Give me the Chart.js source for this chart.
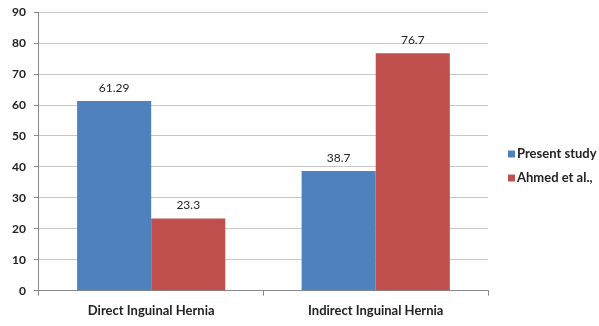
<!DOCTYPE html>
<html>
<head>
<meta charset="utf-8">
<script src="https://cdn.jsdelivr.net/npm/chart.js@4"></script>
<style>
  html, body { margin: 0; padding: 0; background: #fff; }
  #wrap { width: 599px; height: 326px; }
</style>
</head>
<body>
<div id="wrap"><canvas id="c" width="599" height="326"></canvas></div>
<script>
const categories = ['Direct Inguinal Hernia', 'Indirect Inguinal Hernia'];
const presentStudy = [61.29, 38.7];
const ahmedEtAl = [23.3, 76.7];
const seriesNames = ['Present study', 'Ahmed et al.,'];
const seriesColors = ['#4F81BD', '#C0504D'];
const yTicks = [0, 10, 20, 30, 40, 50, 60, 70, 80, 90];

const FONT = 'Lato, "Open Sans", sans-serif';

// Prints each bar's value just above it
const valueLabels = {
  id: 'valueLabels',
  afterDatasetsDraw(chart) {
    const ctx = chart.ctx;
    ctx.save();
    ctx.font = '12px ' + FONT;
    ctx.fillStyle = '#222';
    ctx.textAlign = 'center';
    ctx.textBaseline = 'bottom';
    chart.data.datasets.forEach((ds, i) => {
      chart.getDatasetMeta(i).data.forEach((bar, j) => {
        ctx.fillText(String(ds.data[j]), bar.x, bar.y - 7);
      });
    });
    ctx.restore();
  }
};

// Series key to the right of the plot, vertically centred on the canvas
const sideLegend = {
  id: 'sideLegend',
  afterDraw(chart) {
    const ctx = chart.ctx;
    const x0 = chart.chartArea.right + 20;
    const rowGap = 24;
    const n = chart.data.datasets.length;
    const yStart = chart.height / 2 + 3 - (n - 1) * rowGap / 2;
    ctx.save();
    ctx.font = 'bold 13px ' + FONT;
    ctx.textAlign = 'left';
    ctx.textBaseline = 'middle';
    chart.data.datasets.forEach((ds, i) => {
      const y = yStart + i * rowGap;
      ctx.fillStyle = ds.backgroundColor;
      ctx.fillRect(x0, y - 3.5, 7, 7);
      ctx.fillStyle = '#222';
      ctx.fillText(ds.label, x0 + 9, y);
    });
    ctx.restore();
  }
};

new Chart(document.getElementById('c'), {
  type: 'bar',
  data: {
    labels: categories,
    datasets: [
      { label: seriesNames[0], data: presentStudy, backgroundColor: seriesColors[0] },
      { label: seriesNames[1], data: ahmedEtAl, backgroundColor: seriesColors[1] }
    ]
  },
  options: {
    responsive: false,
    animation: false,
    devicePixelRatio: 1,
    layout: { padding: { left: 4, top: 0, right: 111, bottom: 0 } },
    datasets: { bar: { categoryPercentage: 0.66, barPercentage: 1.0 } },
    scales: {
      x: {
        grid: { display: true, drawOnChartArea: false, drawTicks: true, tickLength: 5, color: '#888', offset: true },
        border: { display: true, color: '#888' },
        ticks: { color: '#222', font: { family: FONT, size: 13, weight: 'bold', lineHeight: 0.95 }, padding: 9 }
      },
      y: {
        min: 0, max: 90,
        afterBuildTicks(axis) { axis.ticks = yTicks.map(v => ({ value: v })); },
        grid: { color: '#c8c8c8', tickLength: 5, tickColor: '#888' },
        border: { display: true, color: '#888' },
        ticks: { color: '#222', font: { family: FONT, size: 12, weight: 'bold', lineHeight: 0.7 }, padding: 8 }
      }
    },
    plugins: {
      legend: { display: false },
      tooltip: { enabled: false }
    }
  },
  plugins: [valueLabels, sideLegend]
});
</script>
</body>
</html>
